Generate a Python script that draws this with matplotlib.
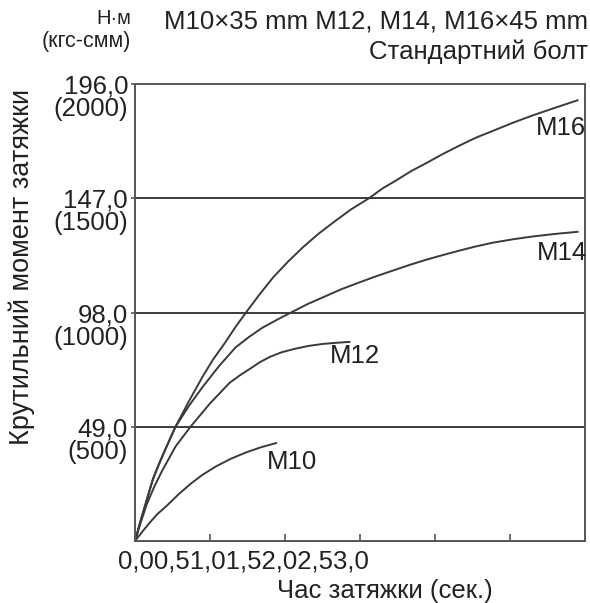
import matplotlib.pyplot as plt

plt.rcParams['font.family'] = ['Liberation Sans', 'DejaVu Sans']

# values (time in s, torque in N*m)
t_m16 = [0, 0.04, 0.08, 0.12, 0.16, 0.2, 0.27, 0.36, 0.45, 0.52, 0.6, 0.67, 0.74, 0.83, 0.92, 1.02, 1.12,
         1.22, 1.33, 1.44, 1.56, 1.65, 1.75, 1.84, 1.94, 2.05, 2.16, 2.27, 2.39, 2.52, 2.65, 2.8, 2.95]
T_m16 = [0, 9.2, 18, 26.6, 33, 39, 49, 60, 70.4, 77.8, 85, 91.8, 98, 105.7, 113, 119.8, 126,
         131.6, 137, 142.2, 147, 151.2, 155, 158.6, 162, 165.9, 169.5, 172.9, 176, 179.4, 182.5, 185.8, 189]
t_m14 = [0, 0.04, 0.08, 0.12, 0.16, 0.2, 0.27, 0.36, 0.45, 0.56, 0.67, 0.76, 0.85, 0.95, 1.04, 1.15, 1.27,
         1.38, 1.5, 1.61, 1.72, 1.83, 1.94, 2.05, 2.16, 2.27, 2.39, 2.52, 2.65, 2.8, 2.95]
T_m14 = [0, 9.2, 18, 26.6, 33, 39, 49, 58, 66, 75, 83, 87.5, 91.5, 95, 98, 101.6, 105,
         108.1, 111, 113.6, 116, 118.4, 120.6, 122.6, 124.5, 126.3, 128, 129.4, 130.6, 131.7, 132.6]
t_m12 = [0, 0.04, 0.08, 0.13, 0.18, 0.27, 0.37, 0.5, 0.63, 0.7, 0.77, 0.83, 0.9, 0.98, 1.07, 1.16, 1.25, 1.34, 1.43]
T_m12 = [0, 8.3, 16, 23.5, 30, 40.5, 49, 59, 67.8, 71.1, 74, 76.6, 79, 81, 82.5, 83.7, 84.5, 85, 85.4]
t_m10 = [0, 0.05, 0.1, 0.15, 0.21, 0.29, 0.37, 0.45, 0.54, 0.64, 0.74, 0.84, 0.94]
T_m10 = [0, 4.1, 8, 11.6, 15, 20, 24.5, 28.4, 32, 35.3, 38, 40.2, 42]
curves = [(t_m16, T_m16), (t_m14, T_m14), (t_m12, T_m12), (t_m10, T_m10)]

curve_names = ['M16', 'M14', 'M12', 'M10']
grid_values = [49, 98, 147]
y_ticks = [49, 98, 147, 196]
y_tick_labels = ['49,0', '98,0', '147,0', '196,0']
y_kgf_labels = ['(500)', '(1000)', '(1500)', '(2000)']
x_ticks = [0.5, 1.0, 1.5, 2.0, 2.5]
x_tick_labels = ['0,0', '0,5', '1,0', '1,5', '2,0', '2,5', '3,0']

fs = 18.5
txt_col = '#222222'
line_col = '#3a3a3a'
fig = plt.figure(figsize=(5.9, 6.03), dpi=100)
ax = fig.add_axes([0.2288, 0.1028, 0.7627, 0.7579])

for v in grid_values:
    ax.axhline(v, color=line_col, lw=1.4)
for t, T in curves:
    ax.plot(t, T, color=line_col, lw=1.4, solid_joinstyle='round')

ax.set_xlim(0, 3.0)
ax.set_ylim(0, 196)
for s in ax.spines.values():
    s.set_color('#555555')
    s.set_linewidth(1.4)

ax.set_xticks(x_ticks)
ax.set_xticklabels([])
ax.tick_params(axis='x', direction='in', length=5, width=1.2, color='#555555')
ax.set_yticks(y_ticks)
ax.set_yticklabels(y_tick_labels, fontsize=fs, color=txt_col)
ax.tick_params(axis='y', direction='out', length=3, width=1.2, color='#555555', pad=2)
for v, lab in zip(y_ticks, y_kgf_labels):
    ax.annotate(lab, xy=(0, v), xycoords=('axes fraction', 'data'),
                xytext=(-5, -18), textcoords='offset points',
                ha='right', va='center', fontsize=fs, color=txt_col)

# curve names
ax.text(2.67, 177, curve_names[0], fontsize=fs, color=txt_col, ha='left', va='center')
ax.text(2.68, 123.5, curve_names[1], fontsize=fs, color=txt_col, ha='left', va='center')
ax.text(1.3, 79.5, curve_names[2], fontsize=fs, color=txt_col, ha='left', va='center')
ax.text(0.88, 33.7, curve_names[3], fontsize=fs, color=txt_col, ha='left', va='center')

fig.text(118 / 590, 1 - 562 / 603, ''.join(x_tick_labels), fontsize=fs,
         color=txt_col, ha='left', va='center')
fig.text(385 / 590, 1 - 591 / 603, 'Час затяжки (сек.)', fontsize=fs,
         color=txt_col, ha='center', va='center')
fig.text(22 / 590, 1 - 267 / 603, 'Крутильний момент затяжки', fontsize=19.5,
         color=txt_col, ha='center', va='center', rotation=90)

fig.text(131 / 590, 1 - 18 / 603, 'Н·м', fontsize=14.5, color=txt_col, ha='right', va='center')
fig.text(131 / 590, 1 - 42 / 603, '(кгс-смм)', fontsize=15.5, color=txt_col, ha='right', va='center')
fig.text(588 / 590, 1 - 21 / 603, 'M10×35 mm M12, M14, M16×45 mm', fontsize=fs,
         color=txt_col, ha='right', va='center')
fig.text(588 / 590, 1 - 52 / 603, 'Стандартний болт', fontsize=fs,
         color=txt_col, ha='right', va='center')

fig.savefig('out.png', dpi=100)
